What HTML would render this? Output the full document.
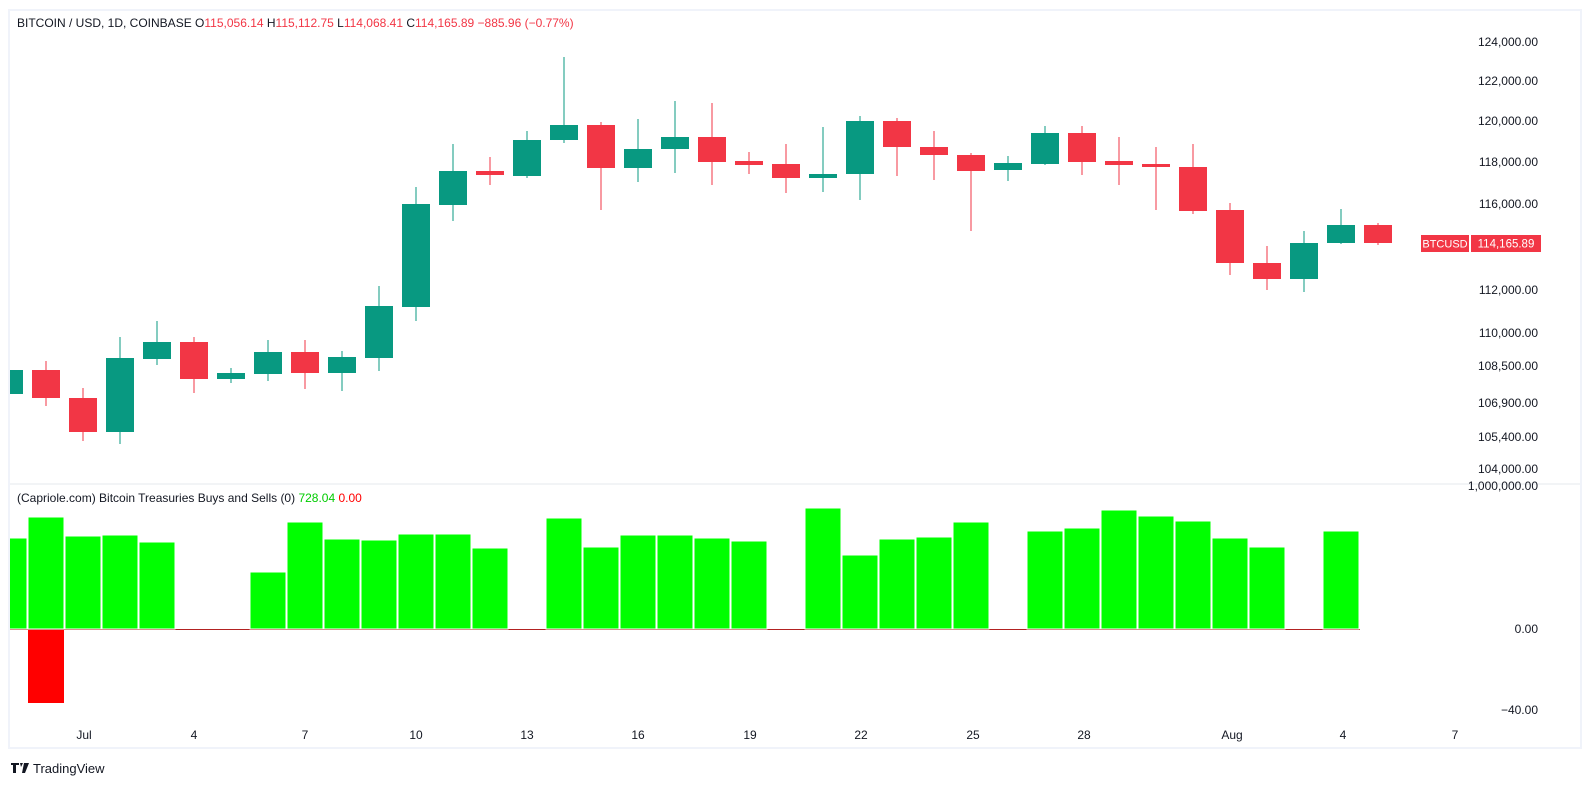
<!DOCTYPE html>
<html><head><meta charset="utf-8"><style>
html,body{margin:0;padding:0;background:#fff;}
svg{display:block;font-family:"Liberation Sans",sans-serif;}
</style></head><body>
<svg width="1591" height="796" viewBox="0 0 1591 796" xmlns="http://www.w3.org/2000/svg">
<rect x="0" y="0" width="1591" height="796" fill="#fff"/>
<rect x="9" y="10" width="1572" height="738" fill="none" stroke="#f0f3fa" stroke-width="2"/>
<line x1="10" y1="484" x2="1580" y2="484" stroke="#e6e8ee" stroke-width="1"/>
<defs><clipPath id="c"><rect x="10" y="11" width="1400" height="736"/></clipPath></defs>
<g clip-path="url(#c)" stroke-width="1">
<g stroke="#089981" fill="#089981">
<line x1="9" x2="9" y1="368" y2="396"/><rect x="-5" y="370" width="28" height="24" stroke="none"/>
<line x1="120" x2="120" y1="337" y2="444"/><rect x="106" y="358" width="28" height="74" stroke="none"/>
<line x1="157" x2="157" y1="321" y2="365"/><rect x="143" y="342" width="28" height="17" stroke="none"/>
<line x1="231" x2="231" y1="368" y2="383"/><rect x="217" y="373" width="28" height="6" stroke="none"/>
<line x1="268" x2="268" y1="340" y2="381"/><rect x="254" y="352" width="28" height="22" stroke="none"/>
<line x1="342" x2="342" y1="351" y2="391"/><rect x="328" y="357" width="28" height="16" stroke="none"/>
<line x1="379" x2="379" y1="286" y2="371"/><rect x="365" y="306" width="28" height="52" stroke="none"/>
<line x1="416" x2="416" y1="187" y2="321"/><rect x="402" y="204" width="28" height="103" stroke="none"/>
<line x1="453" x2="453" y1="144" y2="221"/><rect x="439" y="171" width="28" height="34" stroke="none"/>
<line x1="527" x2="527" y1="131" y2="178"/><rect x="513" y="140" width="28" height="36" stroke="none"/>
<line x1="564" x2="564" y1="57" y2="143"/><rect x="550" y="125" width="28" height="15" stroke="none"/>
<line x1="638" x2="638" y1="119" y2="182"/><rect x="624" y="149" width="28" height="19" stroke="none"/>
<line x1="675" x2="675" y1="101" y2="173"/><rect x="661" y="137" width="28" height="12" stroke="none"/>
<line x1="823" x2="823" y1="127" y2="192"/><rect x="809" y="174" width="28" height="4" stroke="none"/>
<line x1="860" x2="860" y1="116" y2="200"/><rect x="846" y="121" width="28" height="53" stroke="none"/>
<line x1="1008" x2="1008" y1="156" y2="181"/><rect x="994" y="163" width="28" height="7" stroke="none"/>
<line x1="1045" x2="1045" y1="126" y2="165"/><rect x="1031" y="133" width="28" height="31" stroke="none"/>
<line x1="1304" x2="1304" y1="231" y2="292"/><rect x="1290" y="243" width="28" height="36" stroke="none"/>
<line x1="1341" x2="1341" y1="209" y2="244"/><rect x="1327" y="225" width="28" height="18" stroke="none"/>
</g>
<g stroke="#f23645" fill="#f23645">
<line x1="46" x2="46" y1="361" y2="406"/><rect x="32" y="370" width="28" height="28" stroke="none"/>
<line x1="83" x2="83" y1="388" y2="441"/><rect x="69" y="398" width="28" height="34" stroke="none"/>
<line x1="194" x2="194" y1="337" y2="393"/><rect x="180" y="342" width="28" height="37" stroke="none"/>
<line x1="305" x2="305" y1="340" y2="389"/><rect x="291" y="352" width="28" height="21" stroke="none"/>
<line x1="490" x2="490" y1="157" y2="185"/><rect x="476" y="171" width="28" height="4" stroke="none"/>
<line x1="601" x2="601" y1="122" y2="210"/><rect x="587" y="125" width="28" height="43" stroke="none"/>
<line x1="712" x2="712" y1="103" y2="185"/><rect x="698" y="137" width="28" height="25" stroke="none"/>
<line x1="749" x2="749" y1="152" y2="174"/><rect x="735" y="161" width="28" height="4" stroke="none"/>
<line x1="786" x2="786" y1="144" y2="193"/><rect x="772" y="164" width="28" height="14" stroke="none"/>
<line x1="897" x2="897" y1="118" y2="176"/><rect x="883" y="121" width="28" height="26" stroke="none"/>
<line x1="934" x2="934" y1="131" y2="180"/><rect x="920" y="147" width="28" height="8" stroke="none"/>
<line x1="971" x2="971" y1="153" y2="231"/><rect x="957" y="155" width="28" height="16" stroke="none"/>
<line x1="1082" x2="1082" y1="126" y2="175"/><rect x="1068" y="133" width="28" height="29" stroke="none"/>
<line x1="1119" x2="1119" y1="137" y2="185"/><rect x="1105" y="161" width="28" height="4" stroke="none"/>
<line x1="1156" x2="1156" y1="147" y2="210"/><rect x="1142" y="164" width="28" height="3" stroke="none"/>
<line x1="1193" x2="1193" y1="144" y2="214"/><rect x="1179" y="167" width="28" height="44" stroke="none"/>
<line x1="1230" x2="1230" y1="203" y2="275"/><rect x="1216" y="210" width="28" height="53" stroke="none"/>
<line x1="1267" x2="1267" y1="246" y2="290"/><rect x="1253" y="263" width="28" height="16" stroke="none"/>
<line x1="1378" x2="1378" y1="223" y2="245"/><rect x="1364" y="225" width="28" height="18" stroke="none"/>
</g>
<line x1="10" x2="1360" y1="629.5" y2="629.5" stroke="#b22222" stroke-width="1"/>
<g fill="#00ff00" stroke="#fff" stroke-width="1">
<rect x="-9" y="538" width="36" height="91"/>
<rect x="28" y="517" width="36" height="112"/>
<rect x="65" y="536" width="36" height="93"/>
<rect x="102" y="535" width="36" height="94"/>
<rect x="139" y="542" width="36" height="87"/>
<rect x="250" y="572" width="36" height="57"/>
<rect x="287" y="522" width="36" height="107"/>
<rect x="324" y="539" width="36" height="90"/>
<rect x="361" y="540" width="36" height="89"/>
<rect x="398" y="534" width="36" height="95"/>
<rect x="435" y="534" width="36" height="95"/>
<rect x="472" y="548" width="36" height="81"/>
<rect x="546" y="518" width="36" height="111"/>
<rect x="583" y="547" width="36" height="82"/>
<rect x="620" y="535" width="36" height="94"/>
<rect x="657" y="535" width="36" height="94"/>
<rect x="694" y="538" width="36" height="91"/>
<rect x="731" y="541" width="36" height="88"/>
<rect x="805" y="508" width="36" height="121"/>
<rect x="842" y="555" width="36" height="74"/>
<rect x="879" y="539" width="36" height="90"/>
<rect x="916" y="537" width="36" height="92"/>
<rect x="953" y="522" width="36" height="107"/>
<rect x="1027" y="531" width="36" height="98"/>
<rect x="1064" y="528" width="36" height="101"/>
<rect x="1101" y="510" width="36" height="119"/>
<rect x="1138" y="516" width="36" height="113"/>
<rect x="1175" y="521" width="36" height="108"/>
<rect x="1212" y="538" width="36" height="91"/>
<rect x="1249" y="547" width="36" height="82"/>
<rect x="1323" y="531" width="36" height="98"/>
</g>
<rect x="28" y="630" width="36" height="73" fill="#ff0000"/>
</g>
<g font-size="12" fill="#131722">
<text x="17" y="27">BITCOIN / USD, 1D, COINBASE  O<tspan fill="#f23645">115,056.14</tspan>  H<tspan fill="#f23645">115,112.75</tspan>  L<tspan fill="#f23645">114,068.41</tspan>  C<tspan fill="#f23645">114,165.89</tspan>  <tspan fill="#f23645">−885.96 (−0.77%)</tspan></text>
<text x="17" y="502">(Capriole.com) Bitcoin Treasuries Buys and Sells (0)  <tspan fill="#00cc00">728.04</tspan>  <tspan fill="#ff0000">0.00</tspan></text>
</g>
<g font-size="12" fill="#131722" text-anchor="end">
<text x="1538" y="46">124,000.00</text>
<text x="1538" y="85">122,000.00</text>
<text x="1538" y="125">120,000.00</text>
<text x="1538" y="166">118,000.00</text>
<text x="1538" y="208">116,000.00</text>
<text x="1538" y="294">112,000.00</text>
<text x="1538" y="337">110,000.00</text>
<text x="1538" y="370">108,500.00</text>
<text x="1538" y="407">106,900.00</text>
<text x="1538" y="441">105,400.00</text>
<text x="1538" y="473">104,000.00</text>
<text x="1538" y="490">1,000,000.00</text>
<text x="1538" y="633">0.00</text>
<text x="1538" y="714">−40.00</text>
</g>
<rect x="1421" y="235" width="48" height="17" fill="#f23645"/>
<rect x="1471" y="235" width="70" height="17" fill="#f23645"/>
<text x="1445" y="247.5" font-size="11" fill="#fff" text-anchor="middle">BTCUSD</text>
<text x="1506" y="247.5" font-size="11.5" fill="#fff" text-anchor="middle">114,165.89</text>
<g font-size="12" fill="#131722" text-anchor="middle">
<text x="84" y="739">Jul</text><text x="194" y="739">4</text><text x="305" y="739">7</text>
<text x="416" y="739">10</text><text x="527" y="739">13</text><text x="638" y="739">16</text>
<text x="750" y="739">19</text><text x="861" y="739">22</text><text x="973" y="739">25</text>
<text x="1084" y="739">28</text><text x="1232" y="739">Aug</text><text x="1343" y="739">4</text>
<text x="1455" y="739">7</text>
</g>
<g fill="#131722"><path d="M11 763h8v2h-3v8h-3v-8h-2z M20 763h3l-2 4z M24 763h5l-4 10h-3z"/></g>
<text x="33" y="773" font-size="13" fill="#131722">TradingView</text>
</svg>
</body></html>
